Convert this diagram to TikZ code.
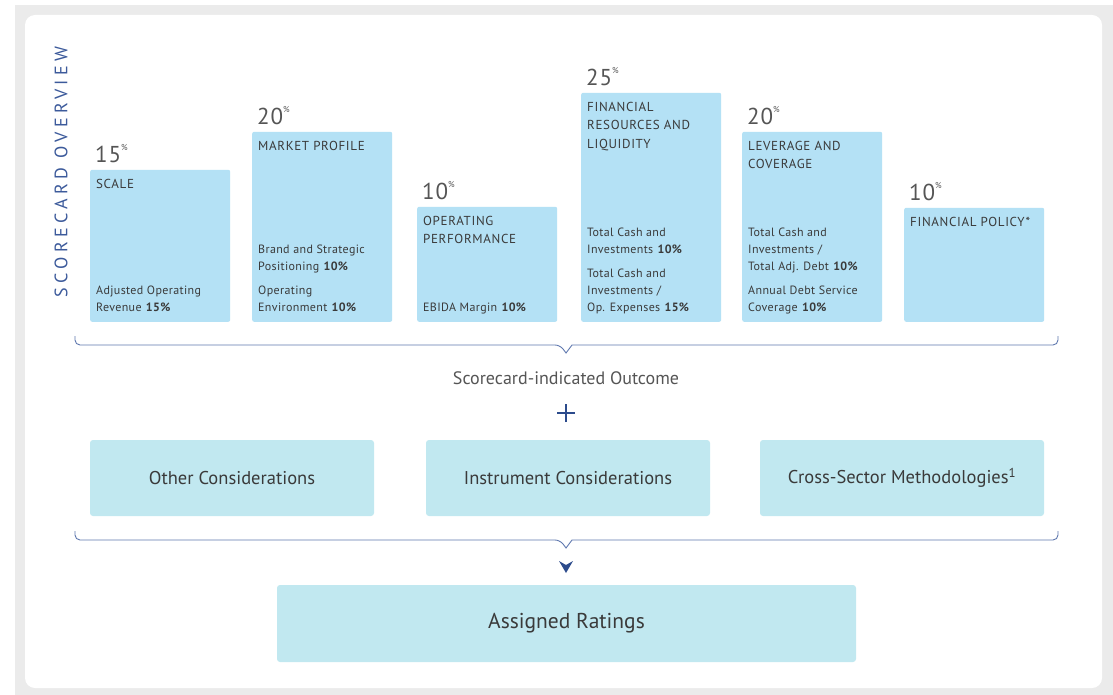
\documentclass[tikz,border=0pt]{standalone}
\usepackage{fontspec}
\setmainfont{PT Sans}
\usetikzlibrary{positioning}
\definecolor{panelgray}{RGB}{235,235,235}
\definecolor{factorblue}{RGB}{180,225,245}
\definecolor{considerblue}{RGB}{193,232,240}
\definecolor{bracegray}{RGB}{95,120,175}
\definecolor{titleblue}{RGB}{60,90,155}
\definecolor{arrowblue}{RGB}{44,75,140}
\definecolor{textgray}{RGB}{58,58,58}
\definecolor{pctgray}{RGB}{85,85,85}

\newcommand{\pcsup}{\raisebox{0.5em}{\fontsize{8.5}{8.5}\selectfont\%}}
\newcommand{\wt}[1]{\hspace{4pt}\textbf{#1\%}}

\tikzset{
  factor/.style={fill=factorblue, rounded corners=2pt, minimum width=140pt, inner sep=0pt, anchor=south west},
  ftitle/.style={anchor=north west, align=left, inner sep=0pt, text=textgray, font=\fontsize{13}{18.5}\selectfont\addfontfeature{LetterSpace=5}},
  fsub/.style={anchor=south west, align=left, inner sep=0pt, text depth=0pt, text=textgray, font=\fontsize{12}{17}\selectfont\addfontfeature{LetterSpace=3}},
  pct/.style={anchor=south west, inner sep=0pt, text depth=0pt, text=pctgray, font=\fontsize{23}{23}\selectfont\addfontfeature{LetterSpace=4}},
  consider/.style={fill=considerblue, rounded corners=3pt, minimum height=76pt, text=textgray, font=\fontsize{18.5}{18.5}\selectfont},
  brace/.style={draw=bracegray, line width=0.9pt}
}

\begin{document}
\begin{tikzpicture}[x=1pt, y=-1pt]
    \useasboundingbox (0,0) rectangle (1113,695);
    % Background and card
    \fill[panelgray] (15,5) rectangle (1113,695);
    \fill[white, rounded corners=10pt] (25,15) rectangle (1102,688);

    % Side title
    \node[rotate=90, text=titleblue, inner sep=0pt, font=\fontsize{18}{18}\selectfont\addfontfeature{LetterSpace=24}] (side) at (61,172) {SCORECARD OVERVIEW};

    % Scale
    \node[factor, minimum height=152pt] (scale) at (90,322) {};
    \node[pct] (scaleP) at ([xshift=5pt, yshift=7pt]scale.north west) {15\pcsup};
    \node[ftitle] (scaleT) at ([xshift=6pt, yshift=-9pt]scale.north west) {SCALE};
    \node[fsub] (scaleA) at ([xshift=6pt, yshift=10pt]scale.south west) {Adjusted Operating\\Revenue\wt{15}};

    % Market profile
    \node[factor, minimum height=190pt] (market) at (252,322) {};
    \node[pct] (marketP) at ([xshift=5pt, yshift=7pt]market.north west) {20\pcsup};
    \node[ftitle] (marketT) at ([xshift=6pt, yshift=-9pt]market.north west) {MARKET PROFILE};
    \node[fsub] (marketB) at ([xshift=6pt, yshift=10pt]market.south west) {Operating\\Environment\wt{10}};
    \node[fsub, above=15pt of marketB.north west, anchor=south west] (marketA) {Brand and Strategic\\Positioning\wt{10}};

    % Operating performance
    \node[factor, minimum height=115pt] (operating) at (417,322) {};
    \node[pct] (operatingP) at ([xshift=5pt, yshift=7pt]operating.north west) {10\pcsup};
    \node[ftitle] (operatingT) at ([xshift=6pt, yshift=-9pt]operating.north west) {OPERATING\\PERFORMANCE};
    \node[fsub] (operatingA) at ([xshift=6pt, yshift=10pt]operating.south west) {EBIDA Margin\wt{10}};

    % Financial resources
    \node[factor, minimum height=229pt] (resources) at (581,322) {};
    \node[pct] (resourcesP) at ([xshift=5pt, yshift=7pt]resources.north west) {25\pcsup};
    \node[ftitle] (resourcesT) at ([xshift=6pt, yshift=-9pt]resources.north west) {FINANCIAL\\RESOURCES AND\\LIQUIDITY};
    \node[fsub] (resourcesB) at ([xshift=6pt, yshift=10pt]resources.south west) {Total Cash and\\Investments /\\Op. Expenses\wt{15}};
    \node[fsub, above=15pt of resourcesB.north west, anchor=south west] (resourcesA) {Total Cash and\\Investments\wt{10}};

    % Leverage and coverage
    \node[factor, minimum height=190pt] (leverage) at (742,322) {};
    \node[pct] (leverageP) at ([xshift=5pt, yshift=7pt]leverage.north west) {20\pcsup};
    \node[ftitle] (leverageT) at ([xshift=6pt, yshift=-9pt]leverage.north west) {LEVERAGE AND\\COVERAGE};
    \node[fsub] (leverageB) at ([xshift=6pt, yshift=10pt]leverage.south west) {Annual Debt Service\\Coverage\wt{10}};
    \node[fsub, above=15pt of leverageB.north west, anchor=south west] (leverageA) {Total Cash and\\Investments /\\Total Adj. Debt\wt{10}};

    % Financial policy
    \node[factor, minimum height=114pt] (policy) at (904,322) {};
    \node[pct] (policyP) at ([xshift=5pt, yshift=7pt]policy.north west) {10\pcsup};
    \node[ftitle] (policyT) at ([xshift=6pt, yshift=-9pt]policy.north west) {FINANCIAL POLICY*};

    % Upper brace
    \coordinate (b1w) at (75,336);
    \coordinate (b1e) at (1058,336);
    \coordinate (b1tip) at (566,353);
    \draw[brace] (b1w) [rounded corners=5pt] -- (75,345) -- (560,345) [sharp corners] -- (b1tip) -- (572,345) [rounded corners=5pt] -- (1058,345) -- (b1e);

    \node[text=pctgray, font=\fontsize{18}{18}\selectfont] (outcome) at (566,378) {Scorecard-indicated Outcome};
    \coordinate (plus) at (566,413);
    \draw[arrowblue, line width=1.1pt] ([xshift=-9pt]plus) -- ([xshift=9pt]plus) ([yshift=-9pt]plus) -- ([yshift=9pt]plus);

    % Considerations
    \node[consider, minimum width=284pt] (other) at (232,478) {Other Considerations};
    \node[consider, minimum width=284pt] (instrument) at (568,478) {Instrument Considerations};
    \node[consider, minimum width=284pt] (cross) at (902,478) {Cross-Sector Methodologies\textsuperscript{1}};

    % Lower brace
    \coordinate (b2w) at (75,531);
    \coordinate (b2e) at (1058,531);
    \coordinate (b2tip) at (566,548);
    \draw[brace] (b2w) [rounded corners=5pt] -- (75,540) -- (560,540) [sharp corners] -- (b2tip) -- (572,540) [rounded corners=5pt] -- (1058,540) -- (b2e);

    \coordinate (arrowtip) at (566,573);
    \fill[arrowblue] (arrowtip) -- ([xshift=-7pt, yshift=12pt]arrowtip) -- ([yshift=8pt]arrowtip) -- ([xshift=7pt, yshift=12pt]arrowtip) -- cycle;

    % Assigned ratings
    \node[consider, minimum width=579pt, minimum height=77pt, font=\fontsize{21.5}{21.5}\selectfont] (assigned) at (566.5,623.5) {Assigned Ratings};
\end{tikzpicture}
\end{document}
